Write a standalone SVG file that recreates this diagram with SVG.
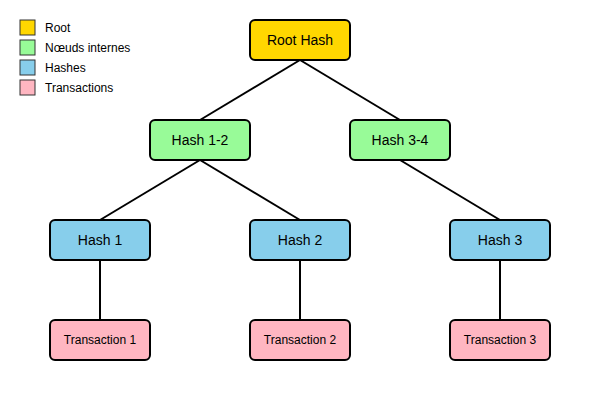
<svg xmlns="http://www.w3.org/2000/svg" width="600" height="400" viewBox="0 0 600 400">
<style>
.node rect{stroke:#000;stroke-width:2}
.node text{font-family:"Liberation Sans",Arial,sans-serif;font-size:14px;fill:#000;text-anchor:middle;dominant-baseline:central}
.node.tx text{font-size:12px}
.root rect{fill:#FFD700}
.internal rect{fill:#98FB98}
.hash rect{fill:#87CEEB}
.tx rect{fill:#FFB6C1}
#connectors line{stroke:#000;stroke-width:2}
.legend rect{stroke:#333;stroke-width:1}
.legend text{font-family:"Liberation Sans",Arial,sans-serif;font-size:12px;fill:#000;dominant-baseline:central}
</style>
<rect width="600" height="400" fill="#fff"/>
<g id="connectors">
<line x1="300" y1="60" x2="200" y2="120"/>
<line x1="300" y1="60" x2="400" y2="120"/>
<line x1="200" y1="160" x2="100" y2="220"/>
<line x1="200" y1="160" x2="300" y2="220"/>
<line x1="400" y1="160" x2="500" y2="220"/>
<line x1="100" y1="260" x2="100" y2="320"/>
<line x1="300" y1="260" x2="300" y2="320"/>
<line x1="500" y1="260" x2="500" y2="320"/>
</g>
<g id="root" class="node root"><rect x="250" y="20" width="100" height="40" rx="5"/><text x="300" y="40">Root Hash</text></g>
<g id="hash12" class="node internal"><rect x="150" y="120" width="100" height="40" rx="5"/><text x="200" y="140">Hash 1-2</text></g>
<g id="hash34" class="node internal"><rect x="350" y="120" width="100" height="40" rx="5"/><text x="400" y="140">Hash 3-4</text></g>
<g id="hash1" class="node hash"><rect x="50" y="220" width="100" height="40" rx="5"/><text x="100" y="240">Hash 1</text></g>
<g id="hash2" class="node hash"><rect x="250" y="220" width="100" height="40" rx="5"/><text x="300" y="240">Hash 2</text></g>
<g id="hash3" class="node hash"><rect x="450" y="220" width="100" height="40" rx="5"/><text x="500" y="240">Hash 3</text></g>
<g id="tx1" class="node tx"><rect x="50" y="320" width="100" height="40" rx="5"/><text x="100" y="340">Transaction 1</text></g>
<g id="tx2" class="node tx"><rect x="250" y="320" width="100" height="40" rx="5"/><text x="300" y="340">Transaction 2</text></g>
<g id="tx3" class="node tx"><rect x="450" y="320" width="100" height="40" rx="5"/><text x="500" y="340">Transaction 3</text></g>
<g id="legend" class="legend">
<rect x="20" y="20" width="15" height="15" fill="#FFD700"/><text x="45" y="27.5">Root</text>
<rect x="20" y="40" width="15" height="15" fill="#98FB98"/><text x="45" y="47.5">Nœuds internes</text>
<rect x="20" y="60" width="15" height="15" fill="#87CEEB"/><text x="45" y="67.5">Hashes</text>
<rect x="20" y="80" width="15" height="15" fill="#FFB6C1"/><text x="45" y="87.5">Transactions</text>
</g>
</svg>
